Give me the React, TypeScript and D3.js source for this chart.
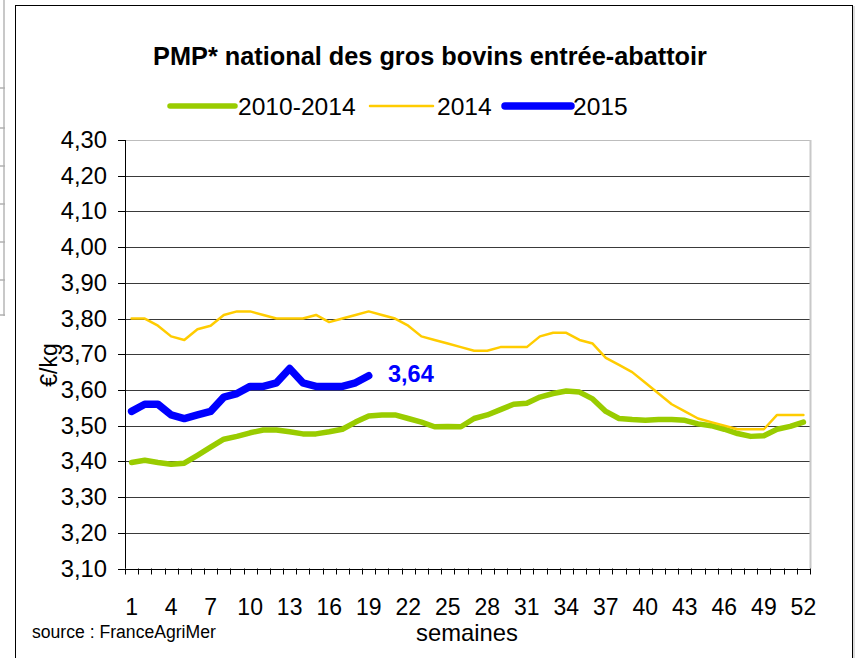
import React from 'react';
import * as d3 from 'd3';

// weekly PMP values, €/kg
const weeks = d3.range(1, 53);
const avg2010_2014 = [
  3.397, 3.403, 3.397, 3.392, 3.395, 3.417, 3.44, 3.462, 3.47, 3.48,
  3.488, 3.488, 3.483, 3.477, 3.477, 3.483, 3.49, 3.51, 3.527, 3.53,
  3.53, 3.52, 3.51, 3.497, 3.498, 3.497, 3.52, 3.53, 3.545, 3.56,
  3.563, 3.58, 3.59, 3.597, 3.594, 3.575, 3.54, 3.52, 3.517, 3.515,
  3.517, 3.517, 3.515, 3.505, 3.5, 3.49, 3.478, 3.47, 3.472, 3.49,
  3.498, 3.51,
];
const year2014 = [
  3.80, 3.80, 3.78, 3.75, 3.74, 3.77, 3.78, 3.81, 3.82, 3.82,
  3.81, 3.80, 3.80, 3.80, 3.81, 3.79, 3.80, 3.81, 3.82, 3.81,
  3.80, 3.78, 3.75, 3.74, 3.73, 3.72, 3.71, 3.71, 3.72, 3.72,
  3.72, 3.75, 3.76, 3.76, 3.74, 3.73, 3.69, 3.67, 3.65, 3.62,
  3.59, 3.56, 3.54, 3.52, 3.51, 3.50, 3.49, 3.49, 3.49, 3.53,
  3.53, 3.53,
];
const year2015 = [
  3.54, 3.56, 3.56, 3.53, 3.52, 3.53, 3.54, 3.58, 3.59, 3.61,
  3.61, 3.62, 3.66, 3.62, 3.61, 3.61, 3.61, 3.62, 3.64,
];
const yTicks = [3.1, 3.2, 3.3, 3.4, 3.5, 3.6, 3.7, 3.8, 3.9, 4.0, 4.1, 4.2, 4.3];
const xTickLabels = [1, 4, 7, 10, 13, 16, 19, 22, 25, 28, 31, 34, 37, 40, 43, 46, 49, 52];

const FONT = 'Liberation Sans, Arial, Helvetica, sans-serif';
const left = 125, right = 810, top = 140, bottom = 568.5;

const frFormat = d3.formatLocale({
  decimal: ',', thousands: ' ', grouping: [3], currency: ['', ' €'],
}).format('.2f');

export default function App() {
  const x = d3.scaleBand<number>().domain(weeks).range([left, right]).padding(0);
  const cx = (w: number) => (x(w) as number) + x.bandwidth() / 2;
  const y = d3.scaleLinear().domain([3.1, 4.3]).range([bottom, top]);

  const line = d3.line<number>()
    .x((d, i) => cx(weeks[i]))
    .y((d) => y(d));

  const series = [
    { name: '2010-2014', values: avg2010_2014, color: '#99CC00', width: 5.5 },
    { name: '2014', values: year2014, color: '#FFCC00', width: 2.5 },
    { name: '2015', values: year2015, color: '#0000FF', width: 7.5 },
  ];
  const legendPos = [
    { x1: 170, x2: 235, tx: 238 },
    { x1: 370, x2: 433, tx: 437 },
    { x1: 505, x2: 571, tx: 573 },
  ];

  const boundaries = d3.range(0, weeks.length + 1).map((i) => left + i * x.bandwidth());
  const lastIdx = year2015.length - 1;

  return (
    <svg width={860} height={658} style={{ position: 'absolute', left: 0, top: 0, background: '#fff' }}>
      {/* bits of the sheet behind the chart */}
      <line x1={4} x2={4} y1={0} y2={316} stroke="#c8c8c8" strokeWidth={2} />
      {[88, 128, 166, 204, 242, 280, 315].map((v) => (
        <line key={v} x1={0} x2={5} y1={v} y2={v} stroke="#b0b0b0" strokeWidth={1.5} />
      ))}

      {/* chart frame */}
      <rect x={15.5} y={5.5} width={837} height={660} fill="#fff" stroke="#000" strokeWidth={1} />
      <line x1={854} x2={854} y1={6} y2={658} stroke="#bbb" strokeWidth={1} />

      <text x={430} y={65} textAnchor="middle" fontFamily={FONT} fontWeight="bold" fontSize={25.3}>
        PMP* national des gros bovins entrée-abattoir
      </text>

      {/* legend */}
      {series.map((s, i) => (
        <g key={s.name}>
          <line x1={legendPos[i].x1} x2={legendPos[i].x2} y1={106} y2={106}
            stroke={s.color} strokeWidth={s.width} strokeLinecap="round" />
          <text x={legendPos[i].tx} y={115} fontFamily={FONT} fontSize={24.6}>{s.name}</text>
        </g>
      ))}

      {/* gridlines */}
      {yTicks.slice(1, -1).map((t) => (
        <line key={t} x1={left} x2={right} y1={Math.round(y(t)) + 0.5} y2={Math.round(y(t)) + 0.5}
          stroke="#3a3a3a" strokeWidth={1} />
      ))}
      <line x1={left} x2={right} y1={top + 0.5} y2={top + 0.5} stroke="#bdbdbd" />
      <line x1={right + 0.5} x2={right + 0.5} y1={top} y2={bottom} stroke="#c8c8c8" strokeWidth={2} />

      {/* y axis */}
      <line x1={left + 0.5} x2={left + 0.5} y1={top} y2={bottom} stroke="#000" />
      {yTicks.map((t) => (
        <g key={t}>
          <line x1={118} x2={left} y1={Math.round(y(t)) + 0.5} y2={Math.round(y(t)) + 0.5} stroke="#000" />
          <text x={107} y={y(t) + 8} textAnchor="end" fontFamily={FONT} fontSize={23.8}>{frFormat(t)}</text>
        </g>
      ))}
      <text transform="translate(57,365) rotate(-90)" textAnchor="middle" fontFamily={FONT} fontSize={23}>€/kg</text>

      {/* x axis */}
      <line x1={left} x2={right} y1={Math.round(bottom) + 0.5} y2={Math.round(bottom) + 0.5} stroke="#000" />
      {boundaries.map((b, i) => (
        <line key={i} x1={Math.round(b) + 0.5} x2={Math.round(b) + 0.5} y1={bottom} y2={bottom + 6} stroke="#000" />
      ))}
      {xTickLabels.map((w) => (
        <text key={w} x={cx(w)} y={615} textAnchor="middle" fontFamily={FONT} fontSize={23}>{w}</text>
      ))}
      <text x={467} y={641} textAnchor="middle" fontFamily={FONT} fontSize={23.8}>semaines</text>
      <text x={32} y={638} fontFamily={FONT} fontSize={17.6}>source : FranceAgriMer</text>

      {/* series */}
      {series.map((s) => (
        <path key={s.name} d={line(s.values) || ''} fill="none" stroke={s.color}
          strokeWidth={s.width} strokeLinejoin="round" strokeLinecap="round" />
      ))}
      <text x={388} y={382} fontFamily={FONT} fontWeight="bold" fontSize={23.5} fill="#0000FF">
        {frFormat(year2015[lastIdx])}
      </text>
    </svg>
  );
}
